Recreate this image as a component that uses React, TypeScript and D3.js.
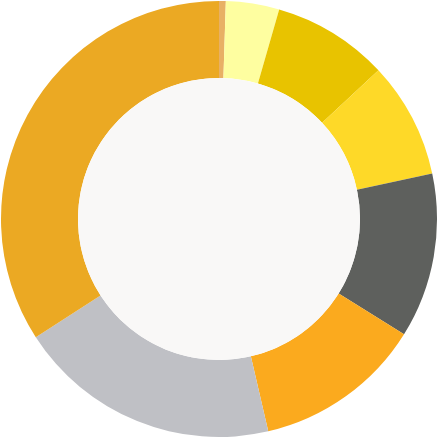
import * as React from "react";
import { arc, pie, PieArcDatum } from "d3";

// slices read clockwise from 12 o'clock
const labels = ["A", "B", "C", "D", "E", "F", "G", "H"];
const values = [0.5, 3.95, 8.6, 8.6, 12.2, 12.5, 19.5, 34.1];
const colors = [
  "#e8b065",
  "#fefea0",
  "#e8c300",
  "#fed928",
  "#5e605d",
  "#fbaa1e",
  "#bfc0c5",
  "#eba923",
];

export default function App() {
  const size = 438;
  const cx = 219;
  const cy = 219;
  const outer = 218;
  const inner = 141;

  const pieGen = pie<number>().sort(null).value((d) => d);
  const arcs = pieGen(values);
  const arcGen = arc<PieArcDatum<number>>().innerRadius(inner).outerRadius(outer);

  return (
    <svg
      width={size}
      height={size}
      style={{ position: "absolute", left: 0, top: 0, background: "#ffffff" }}
    >
      <g transform={`translate(${cx},${cy})`}>
        {arcs.map((a, i) => (
          <path key={labels[i]} d={arcGen(a) || ""} fill={colors[i]} />
        ))}
        <circle r={inner} fill="#f9f8f7" />
      </g>
    </svg>
  );
}
